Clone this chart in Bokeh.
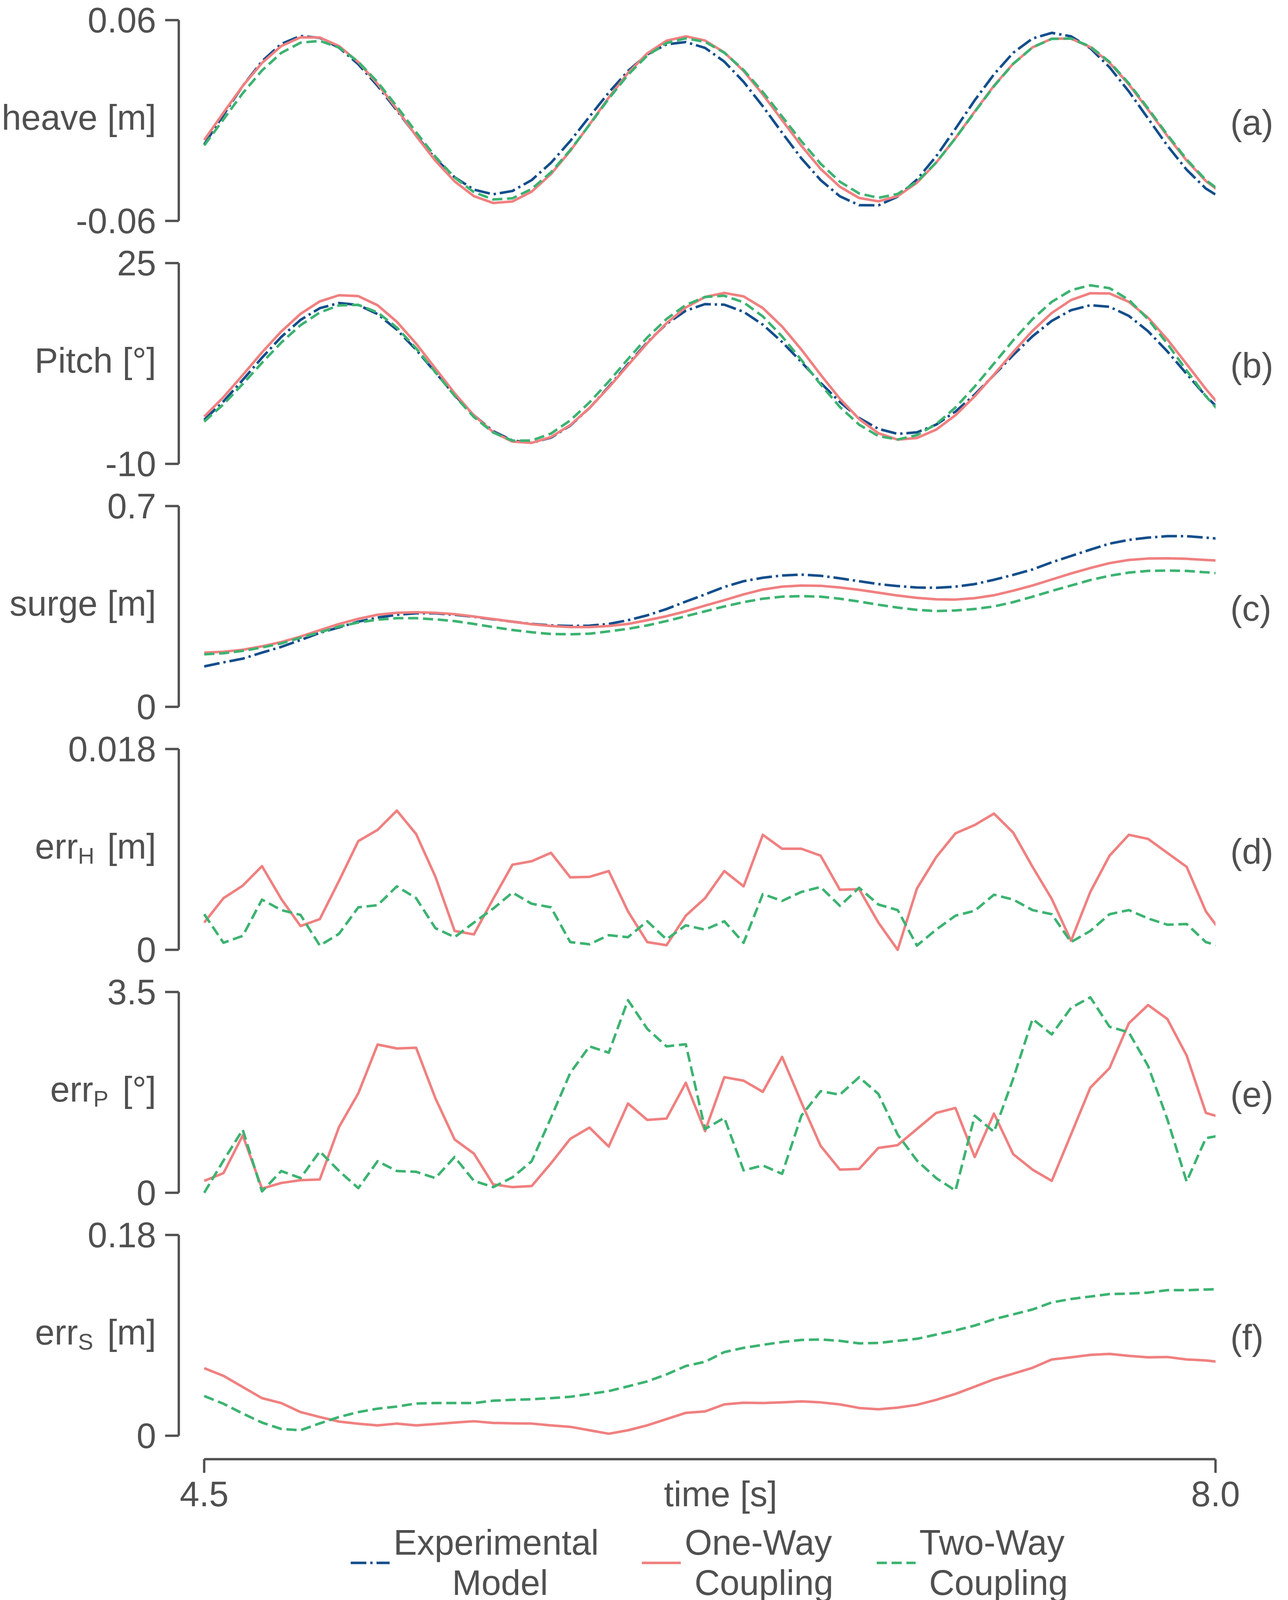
from bokeh.plotting import figure
from bokeh.models import Range1d, FixedTicker, Legend, LegendItem, LinearAxis
from bokeh.layouts import column
from bokeh.embed import file_html
from bokeh.resources import INLINE

# ---------------- data ----------------
time_s = [round(4.5 + k / 15, 4) for k in range(54)]

heave_exp = [-0.0143, 0.0034, 0.0207, 0.0354, 0.0458, 0.0505, 0.0494, 0.0435, 0.0336, 0.0207,
             0.0060, -0.0090, -0.0228, -0.0339, -0.0413, -0.0441, -0.0421, -0.0356, -0.0253, -0.0123,
             0.0023, 0.0167, 0.0296, 0.0395, 0.0455, 0.0469, 0.0434, 0.0352, 0.0231, 0.0085,
             -0.0073, -0.0226, -0.0356, -0.0453, -0.0506, -0.0507, -0.0455, -0.0353, -0.0214, -0.0049,
             0.0121, 0.0276, 0.0405, 0.0490, 0.0524, 0.0503, 0.0432, 0.0318, 0.0174, 0.0012,
             -0.0150, -0.0294, -0.0407, -0.0478]
heave_one = [-0.0117, 0.0047, 0.0207, 0.0344, 0.0445, 0.0497, 0.0496, 0.0445, 0.0349, 0.0219,
             0.0068, -0.0092, -0.0240, -0.0364, -0.0452, -0.0493, -0.0484, -0.0425, -0.0320, -0.0182,
             -0.0024, 0.0137, 0.0284, 0.0401, 0.0477, 0.0503, 0.0478, 0.0407, 0.0296, 0.0156,
             0.0002, -0.0151, -0.0289, -0.0396, -0.0463, -0.0483, -0.0452, -0.0372, -0.0252, -0.0105,
             0.0054, 0.0208, 0.0340, 0.0437, 0.0489, 0.0489, 0.0439, 0.0345, 0.0216, 0.0065,
             -0.0092, -0.0239, -0.0362, -0.0448]
heave_two = [-0.0149, 0.0007, 0.0163, 0.0299, 0.0404, 0.0465, 0.0476, 0.0436, 0.0351, 0.0230,
             0.0084, -0.0070, -0.0216, -0.0341, -0.0428, -0.0472, -0.0465, -0.0409, -0.0310, -0.0177,
             -0.0026, 0.0130, 0.0273, 0.0388, 0.0463, 0.0491, 0.0470, 0.0405, 0.0302, 0.0170,
             0.0024, -0.0124, -0.0258, -0.0366, -0.0436, -0.0462, -0.0439, -0.0366, -0.0251, -0.0106,
             0.0051, 0.0205, 0.0339, 0.0437, 0.0488, 0.0490, 0.0442, 0.0350, 0.0222, 0.0072,
             -0.0085, -0.0232, -0.0356, -0.0443]

pitch_exp = [-2.33, 0.89, 4.63, 8.51, 12.13, 15.09, 17.14, 18.04, 17.70, 16.10,
             13.39, 9.90, 5.95, 1.99, -1.54, -4.29, -5.93, -6.33, -5.43, -3.34,
             -0.27, 3.45, 7.40, 11.19, 14.40, 16.70, 17.85, 17.75, 16.51, 14.27,
             11.25, 7.75, 4.13, 0.79, -2.01, -3.90, -4.77, -4.50, -3.16, -0.88,
             2.09, 5.49, 8.98, 12.24, 14.92, 16.79, 17.65, 17.38, 15.80, 13.12,
             9.61, 5.69, 1.83, -1.51]
pitch_one = [-1.76, 1.63, 5.49, 9.43, 13.08, 16.15, 18.32, 19.40, 19.24, 17.65,
             14.77, 10.97, 6.63, 2.30, -1.56, -4.46, -6.12, -6.34, -5.32, -3.25,
             -0.26, 3.32, 7.21, 11.04, 14.53, 17.27, 19.09, 19.80, 19.20, 17.16,
             13.94, 9.93, 5.54, 1.35, -2.19, -4.66, -5.78, -5.49, -4.03, -1.52,
             1.79, 5.56, 9.49, 13.20, 16.31, 18.56, 19.75, 19.71, 18.24, 15.47,
             11.70, 7.40, 3.04, -0.90]
pitch_two = [-2.63, 0.39, 3.92, 7.62, 11.15, 14.17, 16.39, 17.63, 17.72, 16.40,
             13.76, 10.14, 5.99, 1.85, -1.83, -4.54, -5.95, -5.93, -4.72, -2.44,
             0.71, 4.35, 8.28, 12.03, 15.25, 17.69, 19.09, 19.31, 18.16, 15.70,
             12.21, 8.11, 3.84, -0.08, -3.17, -5.16, -5.75, -4.99, -3.08, -0.17,
             3.48, 7.49, 11.55, 15.23, 18.24, 20.27, 21.13, 20.63, 18.59, 15.22,
             10.94, 6.27, 1.78, -2.01]

surge_exp = [0.141, 0.155, 0.168, 0.189, 0.209, 0.233, 0.258, 0.277, 0.297, 0.311,
             0.321, 0.326, 0.326, 0.321, 0.314, 0.305, 0.297, 0.289, 0.284, 0.282,
             0.283, 0.289, 0.302, 0.319, 0.341, 0.367, 0.392, 0.418, 0.438, 0.450,
             0.458, 0.461, 0.457, 0.448, 0.438, 0.428, 0.421, 0.416, 0.415, 0.419,
             0.428, 0.443, 0.460, 0.479, 0.504, 0.526, 0.548, 0.569, 0.582, 0.590,
             0.595, 0.595, 0.590, 0.584]
surge_one = [0.189, 0.192, 0.199, 0.211, 0.226, 0.245, 0.267, 0.289, 0.307, 0.321,
             0.328, 0.330, 0.328, 0.323, 0.315, 0.306, 0.297, 0.288, 0.282, 0.278,
             0.278, 0.282, 0.289, 0.302, 0.316, 0.333, 0.353, 0.372, 0.392, 0.409,
             0.419, 0.423, 0.422, 0.416, 0.408, 0.398, 0.388, 0.380, 0.375, 0.374,
             0.379, 0.389, 0.405, 0.423, 0.444, 0.465, 0.484, 0.501, 0.512, 0.517,
             0.518, 0.516, 0.512, 0.509]
surge_two = [0.183, 0.187, 0.195, 0.207, 0.221, 0.241, 0.260, 0.280, 0.294, 0.304,
             0.309, 0.309, 0.305, 0.299, 0.289, 0.278, 0.268, 0.260, 0.254, 0.253,
             0.255, 0.263, 0.272, 0.284, 0.299, 0.316, 0.333, 0.350, 0.365, 0.377,
             0.384, 0.386, 0.384, 0.377, 0.367, 0.356, 0.346, 0.338, 0.334, 0.336,
             0.341, 0.350, 0.365, 0.384, 0.404, 0.423, 0.442, 0.457, 0.468, 0.474,
             0.475, 0.474, 0.469, 0.464]

errH_one = [0.00244, 0.00463, 0.00575, 0.0075, 0.00456, 0.00213, 0.00275, 0.00619, 0.00975, 0.01075,
            0.01248, 0.01038, 0.00656, 0.00169, 0.00138, 0.00456, 0.00763, 0.00794, 0.00869, 0.0065,
            0.00654, 0.00706, 0.00344, 0.00069, 0.00041, 0.00306, 0.00463, 0.00706, 0.00569, 0.01031,
            0.00906, 0.00906, 0.00844, 0.00538, 0.00544, 0.00244, 0.0, 0.0055, 0.00831, 0.01044,
            0.01119, 0.01221, 0.0105, 0.00744, 0.00456, 0.00081, 0.00519, 0.00844, 0.01031, 0.00994,
            0.00869, 0.00744, 0.00344, 0.00113]
errH_two = [0.00319, 0.00063, 0.00125, 0.0045, 0.00356, 0.00313, 0.00038, 0.00144, 0.00381, 0.004,
            0.00569, 0.00463, 0.00194, 0.00113, 0.00244, 0.00369, 0.00513, 0.00413, 0.00381, 0.00069,
            0.0005, 0.00131, 0.00113, 0.00256, 0.00094, 0.00219, 0.00181, 0.00256, 0.00063, 0.005,
            0.00438, 0.00519, 0.00563, 0.00394, 0.00556, 0.00406, 0.00356, 0.00038, 0.00181, 0.00306,
            0.0035, 0.00494, 0.0045, 0.00356, 0.00319, 0.00069, 0.00169, 0.00319, 0.00356, 0.00281,
            0.00225, 0.00231, 0.00069, 0.00019]

errP_one = [0.208, 0.342, 1.001, 0.073, 0.171, 0.22, 0.232, 1.148, 1.734, 2.584,
            2.516, 2.528, 1.649, 0.928, 0.684, 0.147, 0.098, 0.117, 0.513, 0.94,
            1.136, 0.806, 1.556, 1.27, 1.294, 1.917, 1.075, 2.015, 1.954, 1.759,
            2.369, 1.575, 0.818, 0.403, 0.415, 0.782, 0.83, 1.111, 1.392, 1.478,
            0.623, 1.38, 0.672, 0.403, 0.208, 1.018, 1.832, 2.174, 2.955, 3.273,
            3.029, 2.394, 1.392, 1.294]
errP_two = [0.0, 0.562, 1.099, 0.024, 0.379, 0.256, 0.721, 0.379, 0.081, 0.55,
            0.379, 0.366, 0.256, 0.623, 0.208, 0.098, 0.269, 0.55, 1.307, 2.088,
            2.552, 2.442, 3.358, 2.858, 2.552, 2.589, 1.111, 1.307, 0.391, 0.476,
            0.33, 1.343, 1.771, 1.71, 2.015, 1.722, 1.014, 0.562, 0.256, 0.037,
            1.343, 1.062, 1.991, 3.029, 2.76, 3.224, 3.407, 2.894, 2.797, 2.21,
            1.282, 0.195, 0.953, 1.014]

errS_one = [0.0606, 0.0537, 0.0437, 0.0337, 0.0293, 0.0212, 0.0168, 0.0127, 0.0108, 0.0093,
            0.0109, 0.0093, 0.0105, 0.0118, 0.013, 0.0115, 0.0111, 0.0109, 0.0093, 0.008,
            0.0049, 0.0018, 0.0049, 0.0093, 0.0149, 0.0205, 0.0218, 0.0281, 0.0296, 0.0293,
            0.0299, 0.0308, 0.0299, 0.0281, 0.0249, 0.0237, 0.0252, 0.0277, 0.0322, 0.0375,
            0.044, 0.0506, 0.0556, 0.0609, 0.0684, 0.0703, 0.0725, 0.0734, 0.0716, 0.0703,
            0.0706, 0.0684, 0.0675, 0.0656]
errS_two = [0.0356, 0.0287, 0.0199, 0.0118, 0.0061, 0.0049, 0.0111, 0.0168, 0.0212, 0.0243,
            0.0262, 0.0289, 0.0293, 0.0293, 0.0293, 0.0314, 0.0322, 0.0327, 0.0337, 0.0349,
            0.0375, 0.04, 0.0443, 0.0487, 0.055, 0.0625, 0.0663, 0.075, 0.0788, 0.0815,
            0.084, 0.0859, 0.0863, 0.0851, 0.0828, 0.0832, 0.0851, 0.0869, 0.0907, 0.0944,
            0.0988, 0.1045, 0.1088, 0.1132, 0.1195, 0.1226, 0.1248, 0.127, 0.1274, 0.1283,
            0.1305, 0.1305, 0.1311, 0.1316]

x_ticks = [4.5, 8.0]
x_tick_labels = ["4.5", "8.0"]
x_title = "time [s]"
panel_tags = ["(a)", "(b)", "(c)", "(d)", "(e)", "(f)"]
y_limits = [(-0.06, 0.06), (-10, 25), (0, 0.7), (0, 0.018), (0, 3.5), (0, 0.18)]
y_tick_labels = [("-0.06", "0.06"), ("-10", "25"), ("0", "0.7"),
                 ("0", "0.018"), ("0", "3.5"), ("0", "0.18")]
NB = "\u00a0"
# y titles: (main text, subscript or None); non-breaking spaces leave room for the subscript
y_titles = [("heave [m]", None), ("Pitch [°]", None), ("surge [m]", None),
            ("err" + NB * 3 + "[m]", "H"), ("err" + NB * 3 + "[°]", "P"),
            ("err" + NB * 3 + "[m]", "S")]
# legend labels; leading non-breaking spaces centre the second line under the first
series_names = ["Experimental\n" + NB * 6 + "Model",
                "One-Way\n" + NB + "Coupling",
                "Two-Way\n" + NB + "Coupling"]

# ---------------- style / layout ----------------
FONT = "Liberation Sans"
TXT = "#505050"
C_EXP, C_ONE, C_TWO = "#134e8c", "#f08080", "#3cb371"
LW = 6.5
STYLES = {
    "exp": dict(line_color=C_EXP, line_width=LW, line_dash="40 10 6 10", line_join="round"),
    "one": dict(line_color=C_ONE, line_width=LW, line_join="round"),
    "two": dict(line_color=C_TWO, line_width=LW, line_dash="26 12", line_join="round"),
}
FS = "90px"
FS_SUB = "58px"
EM = 90.0
# Arial / Liberation Sans advance widths (em) used to place the subscript
ADV = {"e": 0.556, "r": 0.333, NB: 0.278, "[": 0.278, "]": 0.278, "m": 0.833, "°": 0.4,
       "H": 0.722, "P": 0.667, "S": 0.667}


def text_w(s, size=EM):
    return sum(ADV[c] for c in s) * size


# the visible page is shorter than the window, so the vertical layout is kept compact
M = 8
W = 3280
BL, BR = 457, 170
FW = W - BL - BR
FRAME_LEFT = M + BL
PX_PER_S = 739.4
X1 = 8.0
X0 = X1 - FW / PX_PER_S
PERIOD = 622          # vertical pitch of the panels
SPAN = 514            # px between min and max tick
PAD = 16
TOP_GAP = 51          # figure top -> max tick
TICK_OUT = 35
Y_STANDOFF = 23       # labels end 35 + 23 px left of the y axis
X_STANDOFF = 4
AXIS_GAP = 60         # last min tick -> x axis line
F_BOTTOM = 150        # room for the x tick labels
SAMPLE_BELOW_AXIS = 265
LINE_H = 1.16
PAGE_BOTTOM = 4125

panel_series = [
    [("exp", heave_exp), ("one", heave_one), ("two", heave_two)],
    [("exp", pitch_exp), ("one", pitch_one), ("two", pitch_two)],
    [("exp", surge_exp), ("one", surge_one), ("two", surge_two)],
    [("one", errH_one), ("two", errH_two)],
    [("one", errP_one), ("two", errP_two)],
    [("one", errS_one), ("two", errS_two)],
]


def style_axis(ax):
    ax.axis_line_color = TXT
    ax.axis_line_width = 6
    ax.major_tick_line_color = None
    ax.major_tick_out = 0
    ax.major_tick_in = 0
    ax.minor_tick_line_color = TXT
    ax.minor_tick_line_width = 6
    ax.minor_tick_out = TICK_OUT
    ax.minor_tick_in = 0
    ax.major_label_text_font = FONT
    ax.major_label_text_font_size = FS
    ax.major_label_text_color = TXT


def text_axis(font_size, standoff):
    return LinearAxis(axis_line_color=None, major_tick_line_color=None, minor_tick_line_color=None,
                      major_tick_out=0, major_tick_in=0, minor_tick_out=0, minor_tick_in=0,
                      major_label_standoff=standoff, major_label_text_font=FONT,
                      major_label_text_font_size=font_size, major_label_text_color=TXT)


figs = []
fig_top = M
axis_px = None
for i in range(6):
    ymin, ymax = y_limits[i]
    u = (ymax - ymin) / SPAN
    tick_top = fig_top + TOP_GAP
    last = (i == 5)
    border_top = TOP_GAP - PAD
    if last:
        axis_px = tick_top + SPAN + AXIS_GAP
        frame_h = (axis_px - tick_top) + PAD
        y_start = ymax - (axis_px - tick_top) * u
        border_bottom = F_BOTTOM
    else:
        frame_h = SPAN + 2 * PAD
        y_start = ymin - PAD * u
        border_bottom = PERIOD - border_top - frame_h
    height = border_top + frame_h + border_bottom

    p = figure(width=W, height=height, output_backend="svg", toolbar_location=None,
               x_range=Range1d(X0, X1), y_range=Range1d(y_start, ymax + PAD * u),
               x_axis_location="below" if last else None, y_axis_location="left",
               min_border_left=BL, min_border_right=BR,
               min_border_top=border_top, min_border_bottom=border_bottom)
    p.outline_line_color = None
    p.xgrid.visible = False
    p.ygrid.visible = False
    p.background_fill_color = "white"
    p.border_fill_color = "white"

    for key, vals in panel_series[i]:
        p.line(time_s, vals, **STYLES[key])

    def val_at(px_below_top, uu=u, top=ymax):
        return top - px_below_top * uu

    center_off = SPAN / 2
    title_y = val_at(center_off - 8)
    main_title, sub = y_titles[i]

    ax = p.yaxis[0]
    ax.ticker = FixedTicker(ticks=[ymin, title_y, ymax], minor_ticks=[ymin, ymax])
    ax.major_label_overrides = {ymin: y_tick_labels[i][0], ymax: y_tick_labels[i][1],
                                title_y: main_title}
    ax.bounds = (ymin, ymax)
    ax.major_label_standoff = Y_STANDOFF
    style_axis(ax)

    if sub is not None:
        # subscript placed right after "err" through a second, line-less axis
        label_right = FRAME_LEFT - TICK_OUT - Y_STANDOFF
        main_left = label_right - text_w(main_title)
        err_end = main_left + text_w("err")
        sub_right = err_end + 3 + text_w(sub, 58.0)
        inner_edge = main_left          # outer edge of the first axis panel
        sub_y = val_at(center_off + 16)
        ax2 = text_axis(FS_SUB, int(round(inner_edge - sub_right)))
        ax2.ticker = FixedTicker(ticks=[sub_y])
        ax2.major_label_overrides = {sub_y: sub}
        p.add_layout(ax2, "left")

    # panel tag on the right
    tag_y = val_at(center_off + 5)
    ax3 = text_axis(FS, 38)
    ax3.ticker = FixedTicker(ticks=[tag_y])
    ax3.major_label_overrides = {tag_y: panel_tags[i]}
    p.add_layout(ax3, "right")

    if last:
        t_title = round(4.5 + (1851 - 530) / PX_PER_S, 3)
        xa = p.xaxis[0]
        xa.ticker = FixedTicker(ticks=[x_ticks[0], t_title, x_ticks[1]], minor_ticks=x_ticks)
        xa.major_label_overrides = {x_ticks[0]: x_tick_labels[0], x_ticks[1]: x_tick_labels[1],
                                    t_title: x_title}
        xa.bounds = (x_ticks[0], x_ticks[-1])
        xa.major_label_standoff = X_STANDOFF
        style_axis(xa)

    figs.append(p)
    fig_top += height

# ---------------- legend strip ----------------
# its frame is aligned with the panels' frames (page px 465 .. 3118)
leg_h = PAGE_BOTTOM - fig_top
g = figure(width=W, height=leg_h, output_backend="svg", toolbar_location=None,
           x_range=Range1d(0, 1), y_range=Range1d(0, 1),
           x_axis_location=None, y_axis_location=None, min_border=0)
g.outline_line_color = None
g.xgrid.visible = False
g.ygrid.visible = False
g.border_fill_color = "white"
g.background_fill_color = "white"
# the series are drawn again here, outside this strip's visible range, only to key the legend
r_exp = g.line(time_s, heave_exp, **STYLES["exp"])
r_one = g.line(time_s, heave_one, **STYLES["one"])
r_two = g.line(time_s, heave_two, **STYLES["two"])
sample_from_top = axis_px + SAMPLE_BELOW_AXIS - fig_top
item_h = int(round(2 * LINE_H * EM))
legend = Legend(items=[
    LegendItem(label=series_names[0], renderers=[r_exp]),
    LegendItem(label=series_names[1], renderers=[r_one]),
    LegendItem(label=series_names[2], renderers=[r_two]),
], orientation="horizontal",
    location=(905 - FRAME_LEFT, int(leg_h - sample_from_top - item_h / 2)),
    glyph_width=100, glyph_height=item_h, label_height=item_h, label_standoff=10, spacing=110,
    label_text_font=FONT, label_text_font_size=FS, label_text_color=TXT,
    label_text_line_height=LINE_H,
    border_line_alpha=0, background_fill_alpha=0, padding=0, margin=0)
g.add_layout(legend)
figs.append(g)

layout = column(*figs)
open("out.html", "w").write(file_html(layout, INLINE))
